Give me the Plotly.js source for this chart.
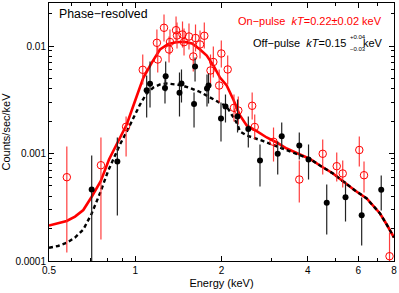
<!DOCTYPE html>
<html><head><meta charset="utf-8">
<script src="https://cdn.plot.ly/plotly-3.0.1.min.js"></script>
<style>html,body{margin:0;padding:0;background:#fff}#c{width:399px;height:293px}</style>
</head><body><div id="c"></div>
<script>
// On-pulse data (keV, counts/sec/keV)
const onEnergy = [0.577,0.759,0.929,1.062,1.198,1.19,1.260,1.312,1.322,1.388,1.399,1.462,1.480,1.540,1.594,1.623,1.683,1.742,1.831,1.873,1.963,1.997,2.102,2.211,2.289,2.559,2.612,3.038,3.737,4.511,5.049,5.298,6.053,6.287,7.718];
const onRate = [6.02e-4,7.78e-4,1.772e-3,6.007e-3,7.488e-3,1.071e-2,1.477e-2,9.28e-3,1.090e-2,1.403e-2,1.253e-2,1.279e-2,1.085e-2,1.226e-2,7.99e-3,1.187e-2,1.033e-2,1.245e-2,5.92e-3,7.10e-3,4.29e-3,8.52e-3,6.05e-3,2.661e-3,2.512e-3,2.779e-3,1.764e-3,1.285e-3,5.73e-4,9.94e-4,7.62e-4,6.52e-4,1.078e-3,6.28e-4,1.108e-4];
const onHigh = [1.162e-3,1.409e-3,2.209e-3,8.334e-3,9.89e-3,1.424e-2,1.963e-2,1.226e-2,1.424e-2,1.881e-2,1.654e-2,1.69e-2,1.455e-2,1.62e-2,1.101e-2,1.585e-2,1.394e-2,1.654e-2,8.334e-3,9.89e-3,6.05e-3,1.125e-2,8.16e-3,3.538e-3,3.39e-3,3.693e-3,2.306e-3,1.745e-3,8.61e-4,1.35e-3,1.022e-3,8.61e-4,1.439e-3,8.42e-4,1.841e-4];
const onLow = [1.2e-4,1.585e-4,9.38e-4,4.383e-3,5.67e-3,7.99e-3,1.101e-2,7.02e-3,8.334e-3,1.055e-2,9.48e-3,9.68e-3,8.16e-3,9.28e-3,5.79e-3,8.89e-3,7.65e-3,9.48e-3,4.20e-3,5.09e-3,2.981e-3,6.31e-3,4.383e-3,1.985e-3,1.861e-3,2.072e-3,1.35e-3,8.42e-4,3.50e-4,6.38e-4,5.49e-4,4.83e-4,7.57e-4,4.34e-4,9.0e-5];

// Off-pulse data
const offEnergy = [0.7047,0.866,1.096,1.126,1.277,1.27,1.427,1.450,1.604,1.617,1.780,1.802,1.992,2.065,2.275,2.481,2.725,3.142,3.245,3.737,4.025,4.659,5.418,6.17,7.22];
const offRate = [4.63e-4,8.42e-4,3.88e-3,4.46e-3,5.24e-3,4.07e-3,3.67e-3,4.48e-3,2.887e-3,6.45e-3,4.02e-3,4.29e-3,2.117e-3,2.737e-3,2.209e-3,1.69e-3,8.61e-4,9.94e-4,1.448e-3,1.187e-3,8.79e-4,3.48e-4,3.92e-4,2.67e-4,4.60e-4];
const offHigh = [9.58e-4,1.409e-3,5.32e-3,7.17e-3,7.17e-3,5.55e-3,5.67e-3,6.05e-3,3.693e-3,7.82e-3,5.43e-3,5.55e-3,2.981e-3,3.538e-3,3.18e-3,2.209e-3,1.213e-3,1.293e-3,1.943e-3,1.568e-3,1.213e-3,5.15e-4,5.49e-4,3.90e-4,6.24e-4];
const offLow = [5e-5,2.65e-4,2.162e-3,2.678e-3,3.77e-3,2.918e-3,2.209e-3,2.981e-3,1.745e-3,4.675e-3,2.737e-3,2.918e-3,1.293e-3,1.943e-3,1.568e-3,1.137e-3,4.93e-4,6.38e-4,1.09e-3,8.79e-4,5.73e-4,1.764e-4,2.33e-4,1.393e-4,2.95e-4];

// Model curves
const onModelE = [0.5,0.5375,0.5764,0.6163,0.6587,0.7047,0.7576,0.8098,0.8776,0.9337,1.0118,1.067,1.141,1.22,1.304,1.388,1.480,1.578,1.683,1.776,1.873,1.976,2.085,2.199,2.321,2.449,2.655,2.876,3.118,3.378,3.758,4.074,4.414,4.899,5.323,5.848,6.425,6.775,7.149,7.545,8.0];
const onModelY = [2.139e-4,2.233e-4,2.356e-4,2.59e-4,2.981e-4,3.96e-4,5.53e-4,8.79e-4,1.35e-3,1.861e-3,3.412e-3,5.06e-3,6.98e-3,9.28e-3,1.044e-2,1.085e-2,1.094e-2,1.055e-2,9.28e-3,8.16e-3,6.59e-3,5.09e-3,4.29e-3,3.18e-3,2.257e-3,1.822e-3,1.612e-3,1.409e-3,1.266e-3,1.113e-3,9.79e-4,8.89e-4,7.73e-4,6.52e-4,5.49e-4,4.53e-4,3.815e-4,3.284e-4,2.766e-4,2.185e-4,1.654e-4];
const offModelE = [0.5,0.5375,0.5764,0.6163,0.6587,0.7047,0.7552,0.8052,0.8499,0.8847,0.9382,0.9844,1.039,1.096,1.156,1.22,1.288,1.433,1.553,1.683,1.776,1.873,1.976,2.085,2.159,2.26,2.321,2.449,2.80,3.118,3.378,3.661,4.074,4.414,4.899,5.323,5.848,6.425,6.775,7.149,7.545,8.0];
const offModelY = [1.327e-4,1.379e-4,1.477e-4,1.654e-4,1.963e-4,2.766e-4,4.34e-4,6.95e-4,9.58e-4,1.213e-3,1.637e-3,2.162e-3,2.856e-3,3.615e-3,4.11e-3,4.383e-3,4.48e-3,4.336e-3,4.07e-3,3.733e-3,3.463e-3,3.18e-3,2.95e-3,2.737e-3,2.356e-3,1.93e-3,1.602e-3,1.47e-3,1.302e-3,1.169e-3,1.066e-3,9.89e-4,8.89e-4,7.73e-4,6.52e-4,5.49e-4,4.53e-4,3.815e-4,3.284e-4,2.766e-4,2.185e-4,1.654e-4];

const xTickVals = [0.5,1,2,4,6,8];
const xTickText = ['0.5','1','2','4','6','8'];
const xMinorVals = [0.6,0.7,0.8,0.9,3,5,7];
const yTickVals = [0.0001,0.001,0.01];
const yTickText = ['0.0001','0.001','0.01'];

const RED = '#ff0000';
const BLK = '#000000';
const FONT = 'Liberation Sans, Arial, Helvetica, sans-serif';

function errs(y, hi, lo){
  return {type:'data', symmetric:false,
    array: y.map((v,i)=>hi[i]-v), arrayminus: y.map((v,i)=>v-lo[i]),
    width:0, thickness:1.2};
}

const traces = [
  {x:onModelE, y:onModelY, mode:'lines', line:{color:RED, width:2.6}, hoverinfo:'skip'},
  {x:offModelE, y:offModelY, mode:'lines', line:{color:BLK, width:2.4, dash:'4px,3px'}, hoverinfo:'skip'},
  {x:onEnergy, y:onRate, mode:'markers', marker:{symbol:'circle-open', size:7.5, color:RED, line:{width:1, color:RED}},
   error_y:Object.assign(errs(onRate,onHigh,onLow), {color:'rgba(255,40,40,0.9)'})},
  {x:offEnergy, y:offRate, mode:'markers', marker:{symbol:'circle', size:6, color:BLK},
   error_y:Object.assign(errs(offRate,offHigh,offLow), {color:'#222222'})}
];

const axisCommon = {showline:true, linecolor:'#000', linewidth:1, mirror:'allticks', ticks:'inside',
  ticklen:5, tickwidth:1, tickcolor:'#000', showgrid:false, zeroline:false,
  tickfont:{family:FONT, size:10, color:'#000'}};

const layout = {
  width:399, height:293,
  margin:{l:49, r:5, t:3, b:32},
  paper_bgcolor:'#fff', plot_bgcolor:'#fff',
  showlegend:false,
  font:{family:FONT, color:'#000'},
  xaxis:Object.assign({}, axisCommon, {type:'log', range:[Math.log10(0.5), Math.log10(8)],
    tickmode:'array', tickvals:xTickVals, ticktext:xTickText,
    minor:{tickmode:'array', tickvals:xMinorVals, ticks:'inside', ticklen:3, tickcolor:'#000', showgrid:false},
    title:{text:'Energy (keV)', font:{family:FONT, size:11, color:'#000'}, standoff:4}}),
  yaxis:Object.assign({}, axisCommon, {type:'log', range:[-4, -1.6],
    tickmode:'array', tickvals:yTickVals, ticktext:yTickText,
    minor:{dtick:'D1', ticks:'inside', ticklen:3, tickcolor:'#000', showgrid:false},
    title:{text:'Counts/sec/keV', font:{family:FONT, size:11, color:'#000'}, standoff:3}}),
  annotations:[
    {xref:'paper', yref:'paper', x:0.022, y:0.956, xanchor:'left', yanchor:'middle', showarrow:false,
     text:'Phase\u2212resolved', font:{family:FONT, size:12.3, color:'#000'}},
    {xref:'paper', yref:'paper', x:0.972, y:0.931, xanchor:'right', yanchor:'middle', showarrow:false,
     text:'On\u2212pulse  <i>kT</i>=0.22\u00b10.02 keV', font:{family:FONT, size:11, color:RED}},
    {xref:'paper', yref:'paper', x:0.866, y:0.846, xanchor:'right', yanchor:'middle', showarrow:false,
     text:'Off\u2212pulse  <i>kT</i>=0.15', font:{family:FONT, size:11, color:'#000'}},
    {xref:'paper', yref:'paper', x:0.866, y:0.870, xanchor:'left', yanchor:'middle', showarrow:false,
     text:'+0.04', font:{family:FONT, size:6, color:'#000'}},
    {xref:'paper', yref:'paper', x:0.866, y:0.823, xanchor:'left', yanchor:'middle', showarrow:false,
     text:'\u22120.03', font:{family:FONT, size:6, color:'#000'}},
    {xref:'paper', yref:'paper', x:0.975, y:0.846, xanchor:'right', yanchor:'middle', showarrow:false,
     text:'keV', font:{family:FONT, size:11, color:'#000'}}
  ]
};

Plotly.newPlot('c', traces, layout, {staticPlot:true, displayModeBar:false});
</script></body></html>
